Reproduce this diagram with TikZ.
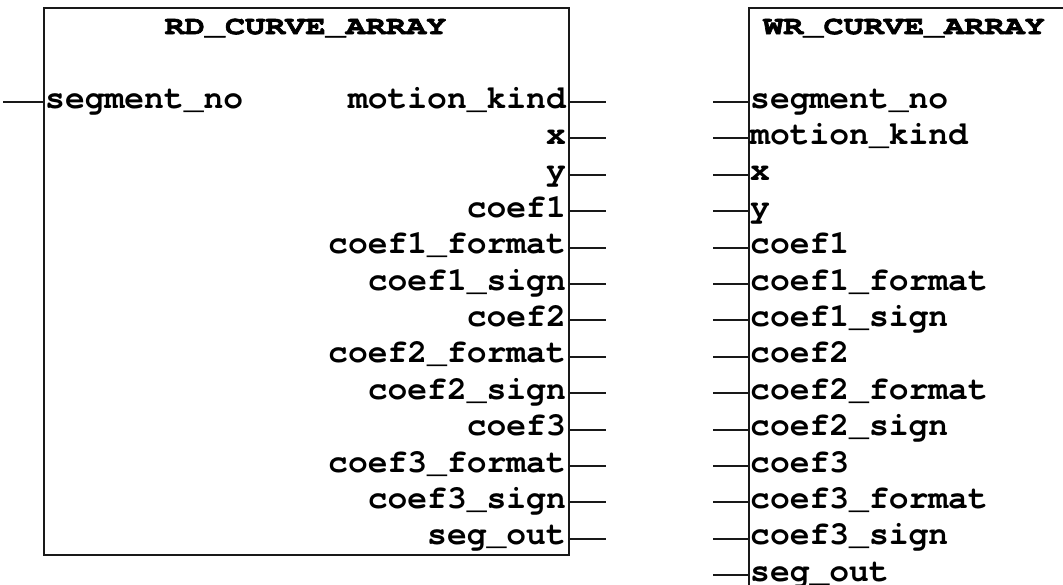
\documentclass[tikz,border=0pt]{standalone}
\usepackage{fontspec}
\newfontfamily\blkfont[Extension=.otf]{texgyrecursor-bold}
\newfontfamily\ttlfont[Extension=.otf, FakeStretch=1.29, FakeBold=2.5]{texgyrecursor-bold}
\usetikzlibrary{positioning}

\begin{document}
\begin{tikzpicture}[x=1pt, y=-1pt,
        blk/.style={rectangle, draw=black!90, line width=2pt, inner sep=0pt,
                    anchor=north west},
        ttl/.style={font=\ttlfont\fontsize{26}{26}\selectfont},
        outl/.style={font=\blkfont\fontsize{33}{33}\selectfont,
                     text width=330pt, align=right, text height=13pt,
                     text depth=5pt, inner sep=1pt},
        inl/.style={font=\blkfont\fontsize{33}{33}\selectfont,
                    text width=330pt, align=left, text height=13pt,
                    text depth=5pt, inner sep=1pt},
        pin/.style={line width=2pt, black!90}
    ]
        \clip (0,0) rectangle (1063,584);
        % the two blocks
        \node[blk, minimum width=525pt, minimum height=547pt] (rd) at (43,7) {};
        \node[blk, minimum width=340pt, minimum height=620pt] (wr) at (748,7) {};
        \node[ttl] (rdt) at (305.5,28) {RD\_CURVE\_ARRAY};
        \node[ttl] (wrt) at (904,28) {WR\_CURVE\_ARRAY};
        % RD_CURVE_ARRAY pins
        \node[inl, anchor=base west] (rsn) at (44,108) {segment\_no};
        \node[outl, anchor=base east] (mk) at (567,108) {motion\_kind};
        \node[outl, below=16pt of mk]   (ox)   {x};
        \node[outl, below=16pt of ox]   (oy)   {y};
        \node[outl, below=16pt of oy]   (oc1)  {coef1};
        \node[outl, below=16pt of oc1]  (oc1f) {coef1\_format};
        \node[outl, below=16pt of oc1f] (oc1s) {coef1\_sign};
        \node[outl, below=16pt of oc1s] (oc2)  {coef2};
        \node[outl, below=16pt of oc2]  (oc2f) {coef2\_format};
        \node[outl, below=16pt of oc2f] (oc2s) {coef2\_sign};
        \node[outl, below=16pt of oc2s] (oc3)  {coef3};
        \node[outl, below=16pt of oc3]  (oc3f) {coef3\_format};
        \node[outl, below=16pt of oc3f] (oc3s) {coef3\_sign};
        \node[outl, below=16pt of oc3s] (oso)  {seg\_out};
        \draw[pin] ([yshift=6pt]rsn.base west -| rd.west) -- ++(-40,0);
        \draw[pin] ([yshift=6pt]mk.base east -| rd.east)   -- ++(36,0);
        \draw[pin] ([yshift=6pt]ox.base east -| rd.east)   -- ++(36,0);
        \draw[pin] ([yshift=6pt]oy.base east -| rd.east)   -- ++(36,0);
        \draw[pin] ([yshift=6pt]oc1.base east -| rd.east)  -- ++(36,0);
        \draw[pin] ([yshift=6pt]oc1f.base east -| rd.east) -- ++(36,0);
        \draw[pin] ([yshift=6pt]oc1s.base east -| rd.east) -- ++(36,0);
        \draw[pin] ([yshift=6pt]oc2.base east -| rd.east)  -- ++(36,0);
        \draw[pin] ([yshift=6pt]oc2f.base east -| rd.east) -- ++(36,0);
        \draw[pin] ([yshift=6pt]oc2s.base east -| rd.east) -- ++(36,0);
        \draw[pin] ([yshift=6pt]oc3.base east -| rd.east)  -- ++(36,0);
        \draw[pin] ([yshift=6pt]oc3f.base east -| rd.east) -- ++(36,0);
        \draw[pin] ([yshift=6pt]oc3s.base east -| rd.east) -- ++(36,0);
        \draw[pin] ([yshift=6pt]oso.base east -| rd.east)  -- ++(36,0);
        % WR_CURVE_ARRAY pins
        \node[inl, anchor=base west] (isn) at (749,108) {segment\_no};
        \node[inl, below=16pt of isn]  (imk)  {motion\_kind};
        \node[inl, below=16pt of imk]  (ix)   {x};
        \node[inl, below=16pt of ix]   (iy)   {y};
        \node[inl, below=16pt of iy]   (ic1)  {coef1};
        \node[inl, below=16pt of ic1]  (ic1f) {coef1\_format};
        \node[inl, below=16pt of ic1f] (ic1s) {coef1\_sign};
        \node[inl, below=16pt of ic1s] (ic2)  {coef2};
        \node[inl, below=16pt of ic2]  (ic2f) {coef2\_format};
        \node[inl, below=16pt of ic2f] (ic2s) {coef2\_sign};
        \node[inl, below=16pt of ic2s] (ic3)  {coef3};
        \node[inl, below=16pt of ic3]  (ic3f) {coef3\_format};
        \node[inl, below=16pt of ic3f] (ic3s) {coef3\_sign};
        \node[inl, below=16pt of ic3s] (iso)  {seg\_out};
        \draw[pin] ([yshift=6pt]isn.base west -| wr.west)  -- ++(-35,0);
        \draw[pin] ([yshift=6pt]imk.base west -| wr.west)  -- ++(-35,0);
        \draw[pin] ([yshift=6pt]ix.base west -| wr.west)   -- ++(-35,0);
        \draw[pin] ([yshift=6pt]iy.base west -| wr.west)   -- ++(-35,0);
        \draw[pin] ([yshift=6pt]ic1.base west -| wr.west)  -- ++(-35,0);
        \draw[pin] ([yshift=6pt]ic1f.base west -| wr.west) -- ++(-35,0);
        \draw[pin] ([yshift=6pt]ic1s.base west -| wr.west) -- ++(-35,0);
        \draw[pin] ([yshift=6pt]ic2.base west -| wr.west)  -- ++(-35,0);
        \draw[pin] ([yshift=6pt]ic2f.base west -| wr.west) -- ++(-35,0);
        \draw[pin] ([yshift=6pt]ic2s.base west -| wr.west) -- ++(-35,0);
        \draw[pin] ([yshift=6pt]ic3.base west -| wr.west)  -- ++(-35,0);
        \draw[pin] ([yshift=6pt]ic3f.base west -| wr.west) -- ++(-35,0);
        \draw[pin] ([yshift=6pt]ic3s.base west -| wr.west) -- ++(-35,0);
        \draw[pin] ([yshift=6pt]iso.base west -| wr.west)  -- ++(-35,0);
    \end{tikzpicture}
\end{document}
